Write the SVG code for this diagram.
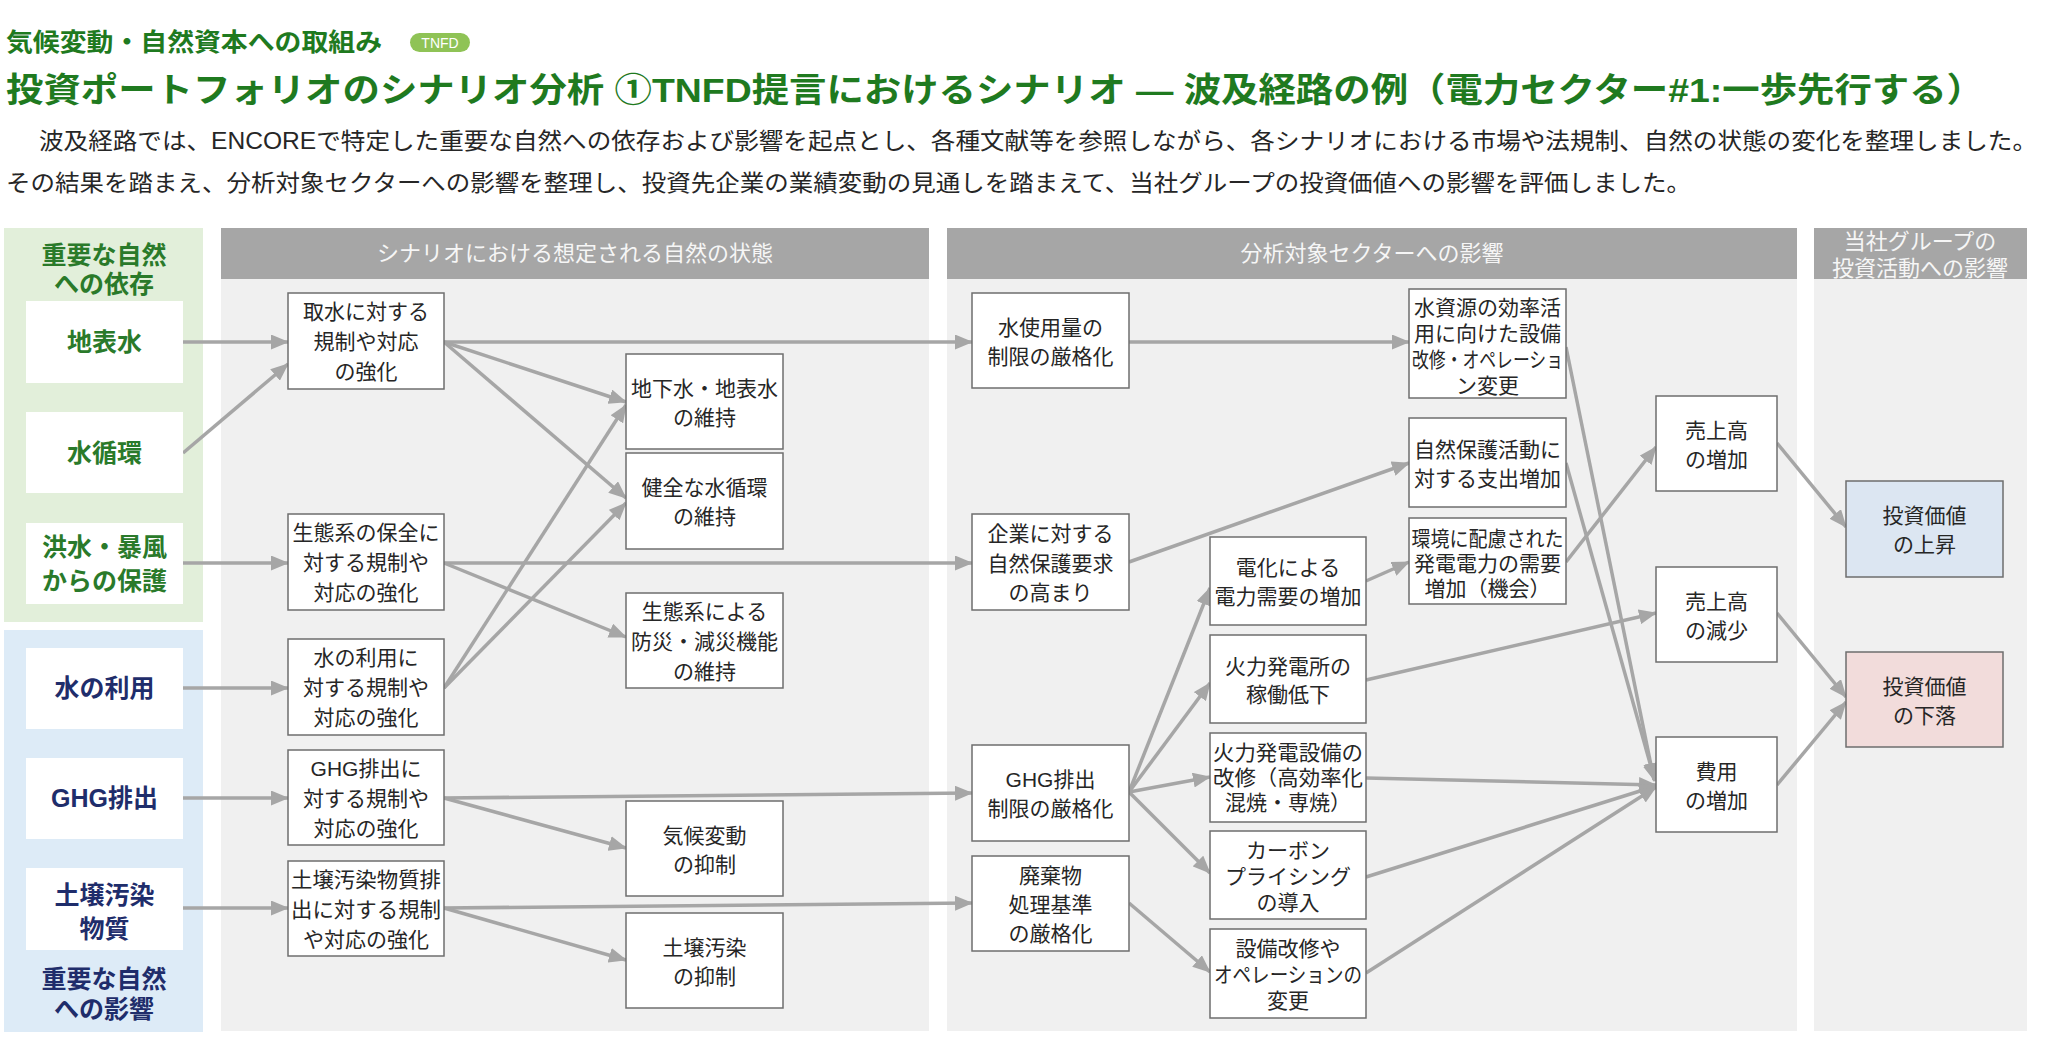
<svg xmlns="http://www.w3.org/2000/svg" width="2048" height="1042" viewBox="0 0 2048 1042">
<defs>
<style>
text{font-family:"Liberation Sans","Noto Sans CJK JP",sans-serif;}
.t{font-size:21px;fill:#262626;text-anchor:middle;dominant-baseline:central;}
.box{fill:#ffffff;stroke:#6e6e6e;stroke-width:1.5;}
.lbox{fill:#ffffff;}
.lg{font-size:25px;font-weight:bold;fill:#2a7a2a;text-anchor:middle;dominant-baseline:central;}
.lb{font-size:25px;font-weight:bold;fill:#1f2d6b;text-anchor:middle;dominant-baseline:central;}
.hd{fill:#a6a6a6;}
.bd{fill:#f0f0f0;}
.ht{font-size:22px;fill:#f6f6f6;text-anchor:middle;dominant-baseline:central;}
.c line{stroke:#a6a6a6;stroke-width:3.5;marker-end:url(#ah);}
</style>
<marker id="ah" markerUnits="userSpaceOnUse" markerWidth="18" markerHeight="15" viewBox="0 0 18 15" refX="17" refY="7.5" orient="auto">
<path d="M0,0 L18,7.5 L0,15 z" fill="#a6a6a6"/>
</marker>
</defs>
<rect x="0" y="0" width="2048" height="1042" fill="#ffffff"/>

<!-- titles -->
<text x="6" y="42" font-size="25" font-weight="bold" fill="#1f7a1f" dominant-baseline="central" textLength="376" lengthAdjust="spacingAndGlyphs">気候変動・自然資本への取組み</text>
<rect x="410" y="33" width="60" height="19" rx="9.5" fill="#8fc356"/>
<text x="440" y="42.5" font-size="14" fill="#ffffff" text-anchor="middle" dominant-baseline="central">TNFD</text>
<text x="6" y="90" font-size="34" font-weight="bold" fill="#1f7a1f" dominant-baseline="central" textLength="1978" lengthAdjust="spacingAndGlyphs">投資ポートフォリオのシナリオ分析 ①TNFD提言におけるシナリオ ― 波及経路の例（電力セクター#1:一歩先行する）</text>
<text x="39" y="141" font-size="23" fill="#262626" dominant-baseline="central" textLength="1998" lengthAdjust="spacingAndGlyphs">波及経路では、ENCOREで特定した重要な自然への依存および影響を起点とし、各種文献等を参照しながら、各シナリオにおける市場や法規制、自然の状態の変化を整理しました。</text>
<text x="6" y="183" font-size="23" fill="#262626" dominant-baseline="central" textLength="1685" lengthAdjust="spacingAndGlyphs">その結果を踏まえ、分析対象セクターへの影響を整理し、投資先企業の業績変動の見通しを踏まえて、当社グループの投資価値への影響を評価しました。</text>

<!-- panels -->
<g id="panel-dependency">
<rect x="4" y="228" width="199" height="394" fill="#e2efda"/>
<text class="lg"><tspan x="104" y="255">重要な自然</tspan><tspan x="104" y="284">への依存</tspan></text>
</g>
<g id="panel-impact">
<rect x="4" y="630" width="199" height="402" fill="#ddebf7"/>
<text class="lb"><tspan x="104" y="979">重要な自然</tspan><tspan x="104" y="1009">への影響</tspan></text>
</g>
<g id="section-nature">
<rect class="bd" x="221" y="279" width="708" height="752"/>
<rect class="hd" x="221" y="228" width="708" height="51"/>
<text class="ht" x="575" y="253">シナリオにおける想定される自然の状態</text>
</g>
<g id="section-sector">
<rect class="bd" x="947" y="279" width="850" height="752"/>
<rect class="hd" x="947" y="228" width="850" height="51"/>
<text class="ht" x="1372" y="253">分析対象セクターへの影響</text>
</g>
<g id="section-group">
<rect class="bd" x="1814" y="279" width="213" height="752"/>
<rect class="hd" x="1814" y="228" width="213" height="51"/>
<text class="ht" font-size="21"><tspan x="1920" y="241">当社グループの</tspan><tspan x="1920" y="268">投資活動への影響</tspan></text>
</g>

<!-- connectors -->
<g id="connectors" class="c">
<line x1="183" y1="342" x2="288" y2="342"/>
<line x1="183" y1="453" x2="288" y2="364"/>
<line x1="183" y1="563" x2="288" y2="563"/>
<line x1="183" y1="688" x2="288" y2="688"/>
<line x1="183" y1="798" x2="288" y2="798"/>
<line x1="183" y1="908" x2="288" y2="908"/>
<line x1="444" y1="342" x2="972" y2="342"/>
<line x1="444" y1="342" x2="626" y2="402"/>
<line x1="444" y1="342" x2="626" y2="498"/>
<line x1="444" y1="563" x2="972" y2="563"/>
<line x1="444" y1="563" x2="626" y2="637"/>
<line x1="444" y1="688" x2="626" y2="405"/>
<line x1="444" y1="688" x2="626" y2="503"/>
<line x1="444" y1="798" x2="972" y2="793"/>
<line x1="444" y1="798" x2="626" y2="848"/>
<line x1="444" y1="908" x2="972" y2="903"/>
<line x1="444" y1="908" x2="626" y2="960"/>
<line x1="1129" y1="342" x2="1409" y2="342"/>
<line x1="1129" y1="562" x2="1409" y2="463"/>
<line x1="1129" y1="792" x2="1210" y2="588"/>
<line x1="1129" y1="792" x2="1210" y2="683"/>
<line x1="1129" y1="792" x2="1210" y2="777"/>
<line x1="1129" y1="792" x2="1210" y2="873"/>
<line x1="1129" y1="903" x2="1210" y2="972"/>
<line x1="1366" y1="581" x2="1409" y2="562"/>
<line x1="1366" y1="680" x2="1656" y2="613"/>
<line x1="1366" y1="778" x2="1656" y2="785"/>
<line x1="1366" y1="877" x2="1656" y2="786"/>
<line x1="1366" y1="973" x2="1656" y2="787"/>
<line x1="1566" y1="347" x2="1654" y2="780"/>
<line x1="1566" y1="463" x2="1655" y2="781"/>
<line x1="1566" y1="562" x2="1656" y2="447"/>
<line x1="1777" y1="443" x2="1846" y2="527"/>
<line x1="1777" y1="613" x2="1846" y2="697"/>
<line x1="1777" y1="785" x2="1846" y2="702"/>
</g>

<!-- left nodes -->
<g id="n-surface-water"><rect class="lbox" x="26" y="301" width="157" height="82"/><text class="lg" x="104.5" y="342">地表水</text></g>
<g id="n-water-cycle"><rect class="lbox" x="26" y="412" width="157" height="81"/><text class="lg" x="104.5" y="453">水循環</text></g>
<g id="n-flood"><rect class="lbox" x="26" y="523" width="157" height="81"/><text class="lg"><tspan x="104.5" y="547">洪水・暴風</tspan><tspan x="104.5" y="581">からの保護</tspan></text></g>
<g id="n-water-use"><rect class="lbox" x="26" y="648" width="157" height="81"/><text class="lb" x="104.5" y="688">水の利用</text></g>
<g id="n-ghg"><rect class="lbox" x="26" y="758" width="157" height="81"/><text class="lb" x="104.5" y="798">GHG排出</text></g>
<g id="n-soil"><rect class="lbox" x="26" y="868" width="157" height="82"/><text class="lb"><tspan x="104.5" y="895">土壌汚染</tspan><tspan x="104.5" y="929">物質</tspan></text></g>

<!-- column 1 -->
<g id="c1-intake"><rect class="box" x="288" y="293" width="156" height="96"/><text class="t"><tspan x="366" y="311">取水に対する</tspan><tspan x="366" y="341">規制や対応</tspan><tspan x="366" y="371">の強化</tspan></text></g>
<g id="c1-eco"><rect class="box" x="288" y="514" width="156" height="96"/><text class="t"><tspan x="366" y="532">生態系の保全に</tspan><tspan x="366" y="562">対する規制や</tspan><tspan x="366" y="592">対応の強化</tspan></text></g>
<g id="c1-wateruse"><rect class="box" x="288" y="639" width="156" height="96"/><text class="t"><tspan x="366" y="657">水の利用に</tspan><tspan x="366" y="687">対する規制や</tspan><tspan x="366" y="717">対応の強化</tspan></text></g>
<g id="c1-ghg"><rect class="box" x="288" y="750" width="156" height="95"/><text class="t"><tspan x="366" y="768">GHG排出に</tspan><tspan x="366" y="798">対する規制や</tspan><tspan x="366" y="828">対応の強化</tspan></text></g>
<g id="c1-soil"><rect class="box" x="288" y="861" width="156" height="95"/><text class="t"><tspan x="366" y="879" textLength="150" lengthAdjust="spacingAndGlyphs">土壌汚染物質排</tspan><tspan x="366" y="909" textLength="150" lengthAdjust="spacingAndGlyphs">出に対する規制</tspan><tspan x="366" y="939">や対応の強化</tspan></text></g>

<!-- column 2 -->
<g id="c2-ground"><rect class="box" x="626" y="354" width="157" height="95"/><text class="t"><tspan x="704.5" y="388">地下水・地表水</tspan><tspan x="704.5" y="417">の維持</tspan></text></g>
<g id="c2-cycle"><rect class="box" x="626" y="453" width="157" height="96"/><text class="t"><tspan x="704.5" y="487">健全な水循環</tspan><tspan x="704.5" y="516">の維持</tspan></text></g>
<g id="c2-disaster"><rect class="box" x="626" y="593" width="157" height="95"/><text class="t"><tspan x="704.5" y="611">生態系による</tspan><tspan x="704.5" y="641">防災・減災機能</tspan><tspan x="704.5" y="671">の維持</tspan></text></g>
<g id="c2-climate"><rect class="box" x="626" y="801" width="157" height="95"/><text class="t"><tspan x="704.5" y="835">気候変動</tspan><tspan x="704.5" y="864">の抑制</tspan></text></g>
<g id="c2-soil"><rect class="box" x="626" y="913" width="157" height="95"/><text class="t"><tspan x="704.5" y="947">土壌汚染</tspan><tspan x="704.5" y="976">の抑制</tspan></text></g>

<!-- column 3 -->
<g id="c3-water"><rect class="box" x="972" y="293" width="157" height="95"/><text class="t"><tspan x="1050.5" y="327">水使用量の</tspan><tspan x="1050.5" y="356">制限の厳格化</tspan></text></g>
<g id="c3-demand"><rect class="box" x="972" y="514" width="157" height="96"/><text class="t"><tspan x="1050.5" y="533">企業に対する</tspan><tspan x="1050.5" y="563">自然保護要求</tspan><tspan x="1050.5" y="592">の高まり</tspan></text></g>
<g id="c3-ghg"><rect class="box" x="972" y="745" width="157" height="96"/><text class="t"><tspan x="1050.5" y="779">GHG排出</tspan><tspan x="1050.5" y="808">制限の厳格化</tspan></text></g>
<g id="c3-waste"><rect class="box" x="972" y="856" width="157" height="95"/><text class="t"><tspan x="1050.5" y="875">廃棄物</tspan><tspan x="1050.5" y="904">処理基準</tspan><tspan x="1050.5" y="933">の厳格化</tspan></text></g>

<!-- column 4 -->
<g id="c4-electrify"><rect class="box" x="1210" y="537" width="156" height="88"/><text class="t"><tspan x="1288" y="567">電化による</tspan><tspan x="1288" y="596">電力需要の増加</tspan></text></g>
<g id="c4-thermal"><rect class="box" x="1210" y="635" width="156" height="88"/><text class="t"><tspan x="1288" y="666">火力発電所の</tspan><tspan x="1288" y="694">稼働低下</tspan></text></g>
<g id="c4-retrofit"><rect class="box" x="1210" y="733" width="156" height="89"/><text class="t"><tspan x="1288" y="752" textLength="150" lengthAdjust="spacingAndGlyphs">火力発電設備の</tspan><tspan x="1288" y="777" textLength="150" lengthAdjust="spacingAndGlyphs">改修（高効率化</tspan><tspan x="1288" y="802">混焼・専焼）</tspan></text></g>
<g id="c4-carbon"><rect class="box" x="1210" y="831" width="156" height="88"/><text class="t"><tspan x="1288" y="850">カーボン</tspan><tspan x="1288" y="876">プライシング</tspan><tspan x="1288" y="902">の導入</tspan></text></g>
<g id="c4-ops"><rect class="box" x="1210" y="929" width="156" height="89"/><text class="t"><tspan x="1288" y="948">設備改修や</tspan><tspan x="1288" y="974" textLength="148" lengthAdjust="spacingAndGlyphs">オペレーションの</tspan><tspan x="1288" y="1000">変更</tspan></text></g>

<!-- column 5 -->
<g id="c5-efficiency"><rect class="box" x="1409" y="289" width="157" height="109"/><text class="t"><tspan x="1487.5" y="307">水資源の効率活</tspan><tspan x="1487.5" y="333">用に向けた設備</tspan><tspan x="1487.5" y="359" textLength="151" lengthAdjust="spacingAndGlyphs">改修・オペレーショ</tspan><tspan x="1487.5" y="385">ン変更</tspan></text></g>
<g id="c5-spending"><rect class="box" x="1409" y="418" width="157" height="89"/><text class="t"><tspan x="1487.5" y="449">自然保護活動に</tspan><tspan x="1487.5" y="478">対する支出増加</tspan></text></g>
<g id="c5-green"><rect class="box" x="1409" y="518" width="157" height="86"/><text class="t"><tspan x="1487.5" y="538" textLength="152" lengthAdjust="spacingAndGlyphs">環境に配慮された</tspan><tspan x="1487.5" y="563">発電電力の需要</tspan><tspan x="1487.5" y="588">増加（機会）</tspan></text></g>

<!-- column 6 -->
<g id="c6-sales-up"><rect class="box" x="1656" y="396" width="121" height="95"/><text class="t"><tspan x="1716.5" y="430">売上高</tspan><tspan x="1716.5" y="459">の増加</tspan></text></g>
<g id="c6-sales-down"><rect class="box" x="1656" y="567" width="121" height="95"/><text class="t"><tspan x="1716.5" y="601">売上高</tspan><tspan x="1716.5" y="630">の減少</tspan></text></g>
<g id="c6-cost"><rect class="box" x="1656" y="737" width="121" height="95"/><text class="t"><tspan x="1716.5" y="771">費用</tspan><tspan x="1716.5" y="800">の増加</tspan></text></g>

<!-- column 7 -->
<g id="c7-up"><rect class="box" x="1846" y="481" width="157" height="96" style="fill:#dce6f2"/><text class="t"><tspan x="1924.5" y="515">投資価値</tspan><tspan x="1924.5" y="544">の上昇</tspan></text></g>
<g id="c7-down"><rect class="box" x="1846" y="652" width="157" height="95" style="fill:#f2dcdb"/><text class="t"><tspan x="1924.5" y="686">投資価値</tspan><tspan x="1924.5" y="715">の下落</tspan></text></g>
</svg>
